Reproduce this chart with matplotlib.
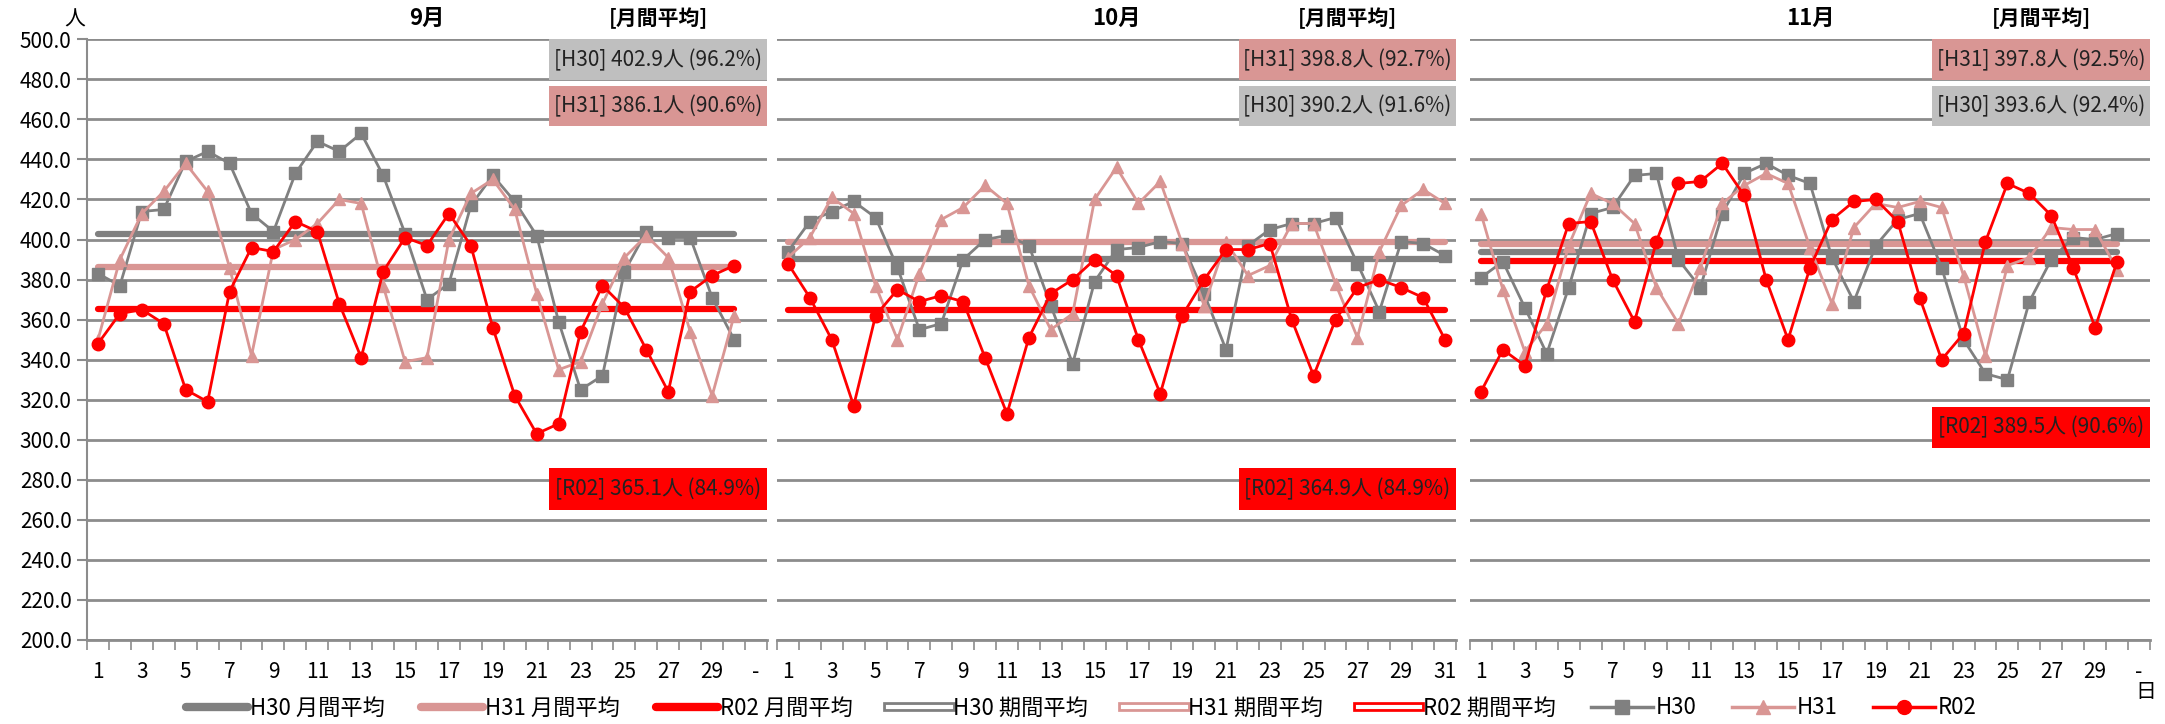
import matplotlib
matplotlib.use("Agg")
import matplotlib.pyplot as plt
import matplotlib.patheffects as pe
import matplotlib.transforms as mtransforms
from matplotlib.lines import Line2D
from matplotlib.patches import Rectangle
import numpy as np

plt.rcParams['font.family'] = ['Noto Sans CJK JP', 'DejaVu Sans']

# ── data (persons per day) ──────────────────────────────────────────
months = ["9月", "10月", "11月"]
n_days = [30, 31, 30]

sep_h30 = [383, 377, 414, 415, 439, 444, 438, 413, 404, 433, 449, 444, 453, 432, 403,
           370, 378, 417, 432, 419, 402, 359, 325, 332, 384, 404, 401, 401, 371, 350]
sep_h31 = [350, 390, 413, 424, 438, 424, 386, 342, 395, 400, 408, 420, 418, 377, 339,
           341, 400, 423, 430, 415, 373, 335, 339, 368, 391, 402, 391, 354, 322, 362]
sep_r02 = [348, 363, 365, 358, 325, 319, 374, 396, 394, 409, 404, 368, 341, 384, 401,
           397, 413, 397, 356, 322, 303, 308, 354, 377, 366, 345, 324, 374, 382, 387]

oct_h30 = [394, 409, 414, 419, 411, 386, 355, 358, 390, 400, 402, 397, 367, 338, 379,
           395, 396, 399, 398, 373, 345, 397, 405, 408, 408, 411, 388, 364, 399, 398, 392]
oct_h31 = [391, 401, 421, 413, 377, 350, 383, 410, 416, 427, 418, 377, 355, 363, 420,
           436, 418, 429, 398, 367, 399, 382, 387, 408, 408, 378, 351, 394, 417, 425, 418]
oct_r02 = [388, 371, 350, 317, 362, 375, 369, 372, 369, 341, 313, 351, 373, 380, 390,
           382, 350, 323, 362, 380, 395, 395, 398, 360, 332, 360, 376, 380, 376, 371, 350]

nov_h30 = [381, 389, 366, 343, 376, 413, 416, 432, 433, 390, 376, 413, 433, 438, 432,
           428, 391, 369, 397, 410, 413, 386, 350, 333, 330, 369, 390, 401, 400, 403]
nov_h31 = [413, 375, 344, 358, 397, 423, 418, 408, 376, 358, 386, 418, 427, 433, 428,
           396, 368, 406, 418, 416, 419, 416, 382, 342, 387, 391, 406, 405, 405, 385]
nov_r02 = [324, 345, 337, 375, 408, 409, 380, 359, 399, 428, 429, 438, 422, 380, 350,
           386, 410, 419, 420, 409, 371, 340, 353, 399, 428, 423, 412, 386, 356, 389]

# monthly averages and occupancy rate
avg_h30 = [402.9, 390.2, 393.6]
avg_h31 = [386.1, 398.8, 397.8]
avg_r02 = [365.1, 364.9, 389.5]
pct_h30 = [96.2, 91.6, 92.4]
pct_h31 = [90.6, 92.7, 92.5]
pct_r02 = [84.9, 84.9, 90.6]

series = [[sep_h30, sep_h31, sep_r02], [oct_h30, oct_h31, oct_r02], [nov_h30, nov_h31, nov_r02]]

C_H30 = "#808080"
C_H31 = "#D99694"
C_R02 = "#FF0000"
BOX_H30 = "#BFBFBF"
GRID = "#8C8C8C"

W, H = 2165, 724
fig = plt.figure(figsize=(W / 100, H / 100), dpi=100)

panels_px = [(87, 767), (777, 1456), (1470, 2150)]
top_px, bot_px = 39.3, 640

for i, (x0, x1) in enumerate(panels_px):
    ax = fig.add_axes([x0 / W, 1 - bot_px / H, (x1 - x0) / W, (bot_px - top_px) / H])
    n = n_days[i]
    x = np.arange(1, n + 1)
    ax.set_xlim(0.5, 31.5)
    ax.set_ylim(200, 500)
    ax.set_yticks(np.arange(200, 501, 20))
    ax.grid(axis="y", color=GRID, lw=2, zorder=0)
    ax.set_axisbelow(True)
    for s in ["top", "right"]:
        ax.spines[s].set_visible(False)
    ax.spines["bottom"].set_color(GRID)
    ax.spines["bottom"].set_linewidth(2)
    if i == 0:
        ax.spines["left"].set_color(GRID)
        ax.spines["left"].set_linewidth(1.5)
        ax.set_yticklabels([f"{v:.1f}" for v in range(200, 501, 20)])
        ax.tick_params(axis="y", length=7, width=1.5, color=GRID, labelsize=15, pad=4)
    else:
        ax.spines["left"].set_visible(False)
        ax.tick_params(axis="y", length=0, labelleft=False)

    # category boundaries as ticks, labels at odd days
    ax.set_xticks(np.arange(0.5, 32, 1))
    ax.set_xticklabels([])
    ax.tick_params(axis="x", which="major", length=7, width=1.2, color=GRID)
    lab_pos = list(range(1, 32, 2))
    labs = [str(d) if d <= n else "-" for d in lab_pos]
    ax.set_xticks(lab_pos, labs, minor=True)
    ax.tick_params(axis="x", which="minor", length=0, labelsize=15, pad=15)

    # monthly average lines
    for avg, c in zip([avg_h30[i], avg_h31[i], avg_r02[i]], [C_H30, C_H31, C_R02]):
        ax.plot([1, n], [avg, avg], color=c, lw=4.5, solid_capstyle="round", zorder=2)

    h30, h31, r02 = series[i]
    ax.plot(x, h30, color=C_H30, lw=2, marker="s", ms=9, zorder=3)
    ax.plot(x, h31, color=C_H31, lw=2, marker="^", ms=9, zorder=4)
    ax.plot(x, r02, color=C_R02, lw=2, marker="o", ms=9, zorder=5)

    # summary boxes
    trans = mtransforms.blended_transform_factory(ax.transAxes, ax.transData)
    t30 = f"[H30] {avg_h30[i]:.1f}人 ({pct_h30[i]:.1f}%)"
    t31 = f"[H31] {avg_h31[i]:.1f}人 ({pct_h31[i]:.1f}%)"
    t02 = f"[R02] {avg_r02[i]:.1f}人 ({pct_r02[i]:.1f}%)"
    if i == 0:
        rows = [(t30, BOX_H30, 479.5, 500), (t31, C_H31, 456.5, 476.5)]
    else:
        rows = [(t31, C_H31, 479.5, 500), (t30, BOX_H30, 456.5, 476.5)]
    if i < 2:
        rows.append((t02, C_R02, 265, 286))
    else:
        rows.append((t02, C_R02, 296, 316.5))
    bx0, bx1 = 0.68, 1.0
    for txt, fc, y0, y1 in rows:
        ax.add_patch(Rectangle((bx0, y0), bx1 - bx0, y1 - y0, transform=trans,
                               facecolor=fc, edgecolor="none", zorder=6, clip_on=False))
        ax.text((bx0 + bx1) / 2, (y0 + y1) / 2, txt, transform=trans, ha="center",
                va="center", fontsize=15, color="#222222", zorder=7)

    # titles
    cx = (x0 + x1) / 2 / W
    fig.text(cx, 1 - 18 / H, months[i], ha="center", va="center", fontsize=16,
             fontweight="bold")
    fig.text((x0 + 0.84 * (x1 - x0)) / W, 1 - 18 / H, "[月間平均]", ha="center",
             va="center", fontsize=15, fontweight="bold")

fig.text(75 / W, 1 - 20 / H, "人", ha="center", va="center", fontsize=15)
fig.text(2146 / W, 1 - 692 / H, "日", ha="center", va="center", fontsize=15)

# legend
def hollow(c):
    return Line2D([], [], color="white", lw=3,
                  path_effects=[pe.Stroke(linewidth=7, foreground=c), pe.Normal()])

handles = [
    Line2D([], [], color=C_H30, lw=6, solid_capstyle="round"),
    Line2D([], [], color=C_H31, lw=6, solid_capstyle="round"),
    Line2D([], [], color=C_R02, lw=6, solid_capstyle="round"),
    hollow(C_H30), hollow(C_H31), hollow(C_R02),
    Line2D([], [], color=C_H30, lw=2.5, marker="s", ms=10),
    Line2D([], [], color=C_H31, lw=2.5, marker="^", ms=10),
    Line2D([], [], color=C_R02, lw=2.5, marker="o", ms=10),
]
labels = ["H30 月間平均", "H31 月間平均", "R02 月間平均", "H30 期間平均", "H31 期間平均",
          "R02 期間平均", "H30", "H31", "R02"]
fig.legend(handles, labels, ncol=9, loc="center", bbox_to_anchor=(1081 / W, 1 - 708 / H),
           frameon=False, fontsize=16, handlelength=2.8, handletextpad=0.1,
           columnspacing=1.6)

fig.savefig("out.png", dpi=100)
